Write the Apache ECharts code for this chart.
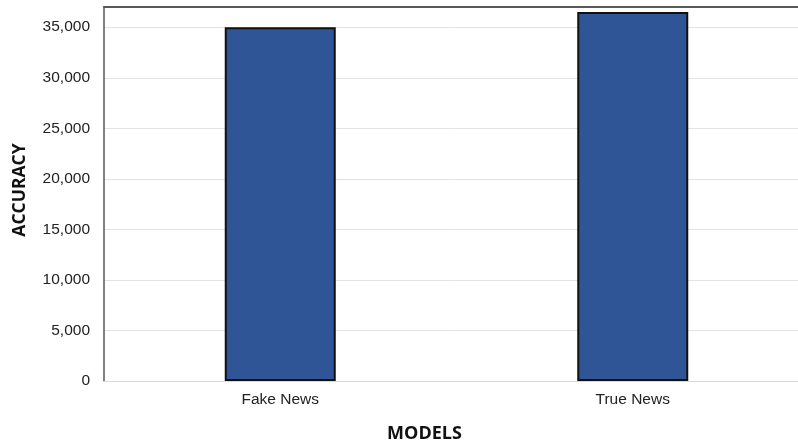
<!DOCTYPE html>
<html>
<head>
<meta charset="utf-8">
<script src="https://cdn.jsdelivr.net/npm/echarts@6/dist/echarts.min.js"></script>
<style>
  html, body { margin: 0; padding: 0; background: #fff; }
  #main { width: 798px; height: 445px; }
</style>
</head>
<body>
<div id="main"></div>
<script>
var models = ["Fake News", "True News"];
var accuracy = [35000, 36500];

var chart = echarts.init(document.getElementById("main"));
var option = {
  backgroundColor: "#ffffff",
  animation: false,
  grid: { left: 104, right: -11, top: 7, bottom: 64, outerBoundsMode: "none", containLabel: false },
  xAxis: [
    {
      type: "category",
      data: models,
      name: "MODELS",
      nameLocation: "middle",
      nameGap: 44,
      nameTextStyle: {
        fontFamily: "Open Sans",
        fontWeight: "bold",
        fontSize: 18,
        color: "#111",
        padding: [0, 64, 0, 0]
      },
      axisTick: { show: false },
      axisLine: { lineStyle: { color: "#d9d9d9", width: 1 } },
      axisLabel: {
        fontFamily: "Liberation Sans",
        fontSize: 15.5,
        color: "#222",
        margin: 11
      }
    },
    {
      type: "category",
      position: "top",
      data: models,
      axisTick: { show: false },
      axisLabel: { show: false },
      axisLine: { lineStyle: { color: "#595959", width: 2 } }
    }
  ],
  yAxis: {
    type: "value",
    min: 0,
    max: 37000,
    interval: 5000,
    name: "ACCURACY",
    nameLocation: "middle",
    nameGap: 75,
    nameTextStyle: {
      fontFamily: "Open Sans",
      fontWeight: "bold",
      fontSize: 17.5,
      color: "#111",
      padding: [0, 0, 0, 8]
    },
    axisLine: { show: true, lineStyle: { color: "#595959", width: 1.5 } },
    axisTick: { show: false },
    axisLabel: {
      fontFamily: "Liberation Sans",
      fontSize: 15.5,
      color: "#222",
      margin: 14,
      showMaxLabel: false,
      formatter: function(v) {
        return v.toLocaleString("en-US");
      }
    },
    splitLine: { lineStyle: { color: "#e3e3e3", width: 1 } }
  },
  series: [
    {
      type: "bar",
      data: accuracy,
      barWidth: 111,
      itemStyle: {
        color: "#2F5597",
        borderColor: "#111111",
        borderWidth: 2
      }
    }
  ]
};
chart.setOption(option);
</script>
</body>
</html>
